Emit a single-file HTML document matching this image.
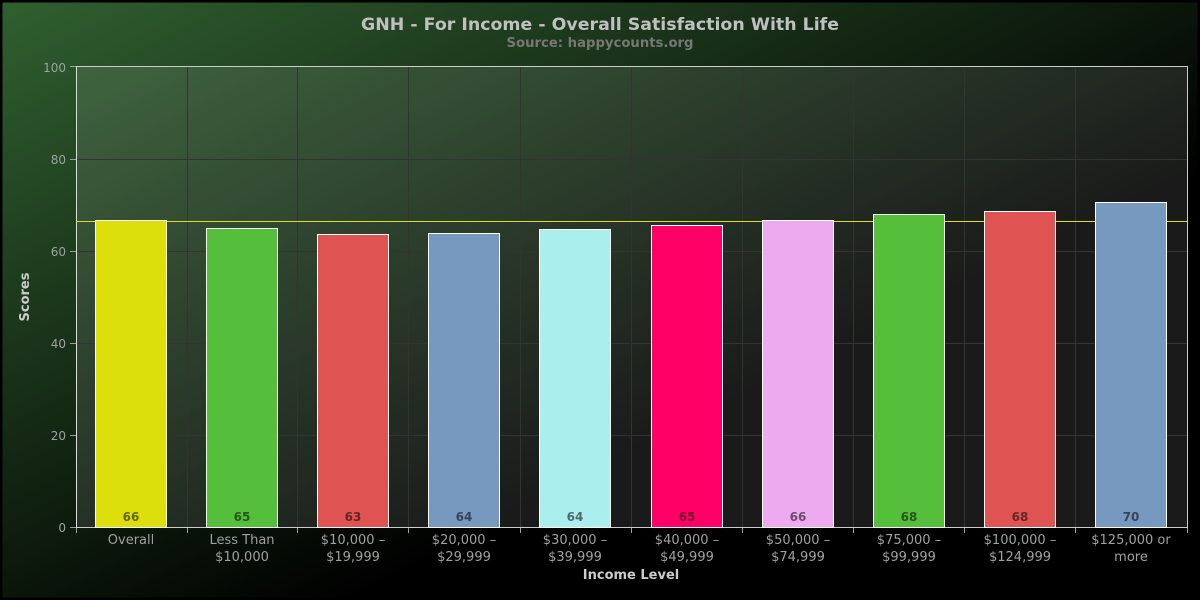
<!DOCTYPE html>
<html><head><meta charset="utf-8"><style>
html,body{margin:0;padding:0;background:#000;}
svg{display:block;}
text{font-family:"DejaVu Sans","Liberation Sans",sans-serif;}
</style></head><body>
<svg width="1200" height="600" viewBox="0 0 1200 600" xmlns="http://www.w3.org/2000/svg">
<defs>
<linearGradient id="bg" gradientUnits="userSpaceOnUse" x1="0" y1="0" x2="310" y2="620">
<stop offset="0" stop-color="rgb(48,96,48)"/>
<stop offset="1" stop-color="rgb(0,0,0)"/>
</linearGradient>
</defs>
<rect x="0" y="0" width="1200" height="600" fill="url(#bg)"/>
<rect x="1" y="1" width="1198" height="598" fill="none" stroke="#000" stroke-width="3"/>
<text x="600" y="30" text-anchor="middle" font-size="17" font-weight="bold" fill="#c0c0c0" textLength="478" lengthAdjust="spacingAndGlyphs">GNH - For Income - Overall Satisfaction With Life</text>
<text x="600" y="47" text-anchor="middle" font-size="13" font-weight="bold" fill="#777" textLength="187" lengthAdjust="spacingAndGlyphs">Source: happycounts.org</text>
<rect x="76" y="67" width="1111" height="460" fill="rgba(255,255,255,0.1)"/>
<g stroke="#333" stroke-width="1">
<line x1="76" y1="159.5" x2="1187" y2="159.5"/>
<line x1="76" y1="251.5" x2="1187" y2="251.5"/>
<line x1="76" y1="343.5" x2="1187" y2="343.5"/>
<line x1="76" y1="435.5" x2="1187" y2="435.5"/>
<line x1="187.5" y1="67" x2="187.5" y2="527"/>
<line x1="297.5" y1="67" x2="297.5" y2="527"/>
<line x1="408.5" y1="67" x2="408.5" y2="527"/>
<line x1="520.5" y1="67" x2="520.5" y2="527"/>
<line x1="631.5" y1="67" x2="631.5" y2="527"/>
<line x1="742.5" y1="67" x2="742.5" y2="527"/>
<line x1="853.5" y1="67" x2="853.5" y2="527"/>
<line x1="964.5" y1="67" x2="964.5" y2="527"/>
<line x1="1075.5" y1="67" x2="1075.5" y2="527"/>
</g>
<rect x="76.5" y="66.5" width="1111" height="461" fill="none" stroke="#ccc" stroke-width="1"/>
<line x1="76.5" y1="66" x2="76.5" y2="528" stroke="#ddd" stroke-width="1"/>
<g stroke="#a0a0a0" stroke-width="1">
<line x1="70" y1="66.5" x2="76" y2="66.5"/>
<line x1="70" y1="159.5" x2="76" y2="159.5"/>
<line x1="70" y1="251.5" x2="76" y2="251.5"/>
<line x1="70" y1="343.5" x2="76" y2="343.5"/>
<line x1="70" y1="435.5" x2="76" y2="435.5"/>
<line x1="70" y1="527.5" x2="76" y2="527.5"/>
<line x1="76.5" y1="528" x2="76.5" y2="533"/>
<line x1="187.5" y1="528" x2="187.5" y2="533"/>
<line x1="297.5" y1="528" x2="297.5" y2="533"/>
<line x1="408.5" y1="528" x2="408.5" y2="533"/>
<line x1="520.5" y1="528" x2="520.5" y2="533"/>
<line x1="631.5" y1="528" x2="631.5" y2="533"/>
<line x1="742.5" y1="528" x2="742.5" y2="533"/>
<line x1="853.5" y1="528" x2="853.5" y2="533"/>
<line x1="964.5" y1="528" x2="964.5" y2="533"/>
<line x1="1075.5" y1="528" x2="1075.5" y2="533"/>
<line x1="1187.5" y1="528" x2="1187.5" y2="533"/>
</g>
<g font-size="12" fill="#a0a0a0" text-anchor="end">
<text x="66" y="72">100</text>
<text x="66" y="164">80</text>
<text x="66" y="256">60</text>
<text x="66" y="348">40</text>
<text x="66" y="440">20</text>
<text x="66" y="532">0</text>
</g>
<line x1="76" y1="221.5" x2="1187" y2="221.5" stroke="#e0e010" stroke-width="1"/>
<g stroke="#fff" stroke-width="1">
<rect x="95.5" y="220.5" width="71" height="307" fill="#dddf0d"/>
<rect x="206.5" y="228.5" width="71" height="299" fill="#55bf3b"/>
<rect x="317.5" y="234.5" width="71" height="293" fill="#df5353"/>
<rect x="428.5" y="233.5" width="71" height="294" fill="#7798bf"/>
<rect x="539.5" y="229.5" width="71" height="298" fill="#aaeeee"/>
<rect x="651.5" y="225.5" width="71" height="302" fill="#ff0066"/>
<rect x="762.5" y="220.5" width="71" height="307" fill="#eeaaee"/>
<rect x="873.5" y="214.5" width="71" height="313" fill="#55bf3b"/>
<rect x="984.5" y="211.5" width="71" height="316" fill="#df5353"/>
<rect x="1095.5" y="202.5" width="71" height="325" fill="#7798bf"/>
</g>
<g font-size="12" font-weight="bold" fill="#000" fill-opacity="0.55" text-anchor="middle">
<text x="131" y="521">66</text>
<text x="242" y="521">65</text>
<text x="353" y="521">63</text>
<text x="464" y="521">64</text>
<text x="575" y="521">64</text>
<text x="687" y="521">65</text>
<text x="798" y="521">66</text>
<text x="909" y="521">68</text>
<text x="1020" y="521">68</text>
<text x="1131" y="521">70</text>
</g>
<g font-size="13" fill="#a0a0a0" text-anchor="middle">
<text x="131" y="544">Overall</text>
<text x="242" y="544">Less Than</text><text x="242" y="561">$10,000</text>
<text x="353" y="544">$10,000 –</text><text x="353" y="561">$19,999</text>
<text x="464" y="544">$20,000 –</text><text x="464" y="561">$29,999</text>
<text x="575" y="544">$30,000 –</text><text x="575" y="561">$39,999</text>
<text x="687" y="544">$40,000 –</text><text x="687" y="561">$49,999</text>
<text x="798" y="544">$50,000 –</text><text x="798" y="561">$74,999</text>
<text x="909" y="544">$75,000 –</text><text x="909" y="561">$99,999</text>
<text x="1020" y="544">$100,000 –</text><text x="1020" y="561">$124,999</text>
<text x="1131" y="544">$125,000 or</text><text x="1131" y="561">more</text>
</g>
<text x="631" y="579" text-anchor="middle" font-size="13" font-weight="bold" fill="#ccc">Income Level</text>
<text x="0" y="0" transform="translate(29,297) rotate(-90)" text-anchor="middle" font-size="13" font-weight="bold" fill="#ccc">Scores</text>
</svg>
</body></html>
